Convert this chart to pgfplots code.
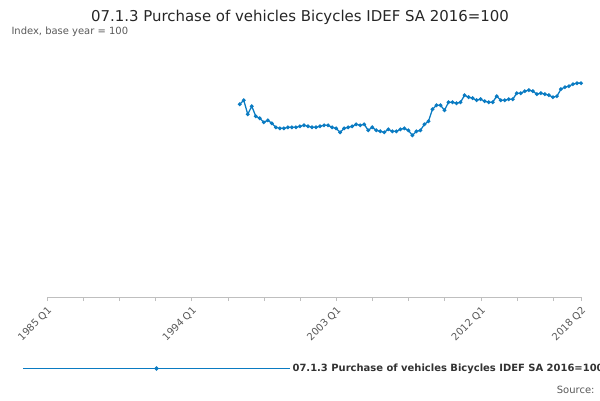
\documentclass[border=0pt]{standalone}
\usepackage{pgfplots}
\pgfplotsset{compat=1.18}
\usepackage{fontspec}
\setmainfont{DejaVu Sans}
\definecolor{ser}{HTML}{0A7BC2}
\begin{document}
\begin{tikzpicture}[x=1bp,y=1bp]
\path[use as bounding box] (0,0) rectangle (600,400);
\node[anchor=center,font=\fontsize{15}{18}\selectfont,text=black!85] at (300,383) {07.1.3 Purchase of vehicles Bicycles IDEF SA 2016=100};
\node[anchor=west,font=\fontsize{10}{12}\selectfont,text=black!65] at (8,368) {Index, base year = 100};
\node[anchor=east,font=\fontsize{10}{12}\selectfont,text=black!65] at (598,10) {Source:};
\begin{axis}[at={(47bp,103bp)},anchor=south west,scale only axis,width=534bp,height=251bp,
 xmin=0,xmax=133,ymin=0,ymax=125,
 ytick={0,25,50,75,100,125},
 xtick={0,36,72,108,133},xticklabels={1985 Q1,1994 Q1,2003 Q1,2012 Q1,2018 Q2},
 minor xtick={9,18,27,45,54,63,81,90,99,117,126},
 x tick label style={rotate=45,anchor=north east,font=\fontsize{10}{12}\selectfont,text=black!65},
 y tick label style={font=\fontsize{10}{12}\selectfont,text=black!65},
 /pgf/number format/assume math mode=true,
 ymajorgrids,grid style={black!12},
 axis line style={draw=none},
 x axis line style={draw=black!25},
 axis x line*=bottom, axis y line=none,
 ytick style={draw=none},
 xtick style={black!25},minor tick style={black!25},
 tick align=outside, major tick length=4bp, minor tick length=4bp,
 legend style={at={(0.5,-0.25)},anchor=north,draw=none,font=\bfseries\fontsize{10}{12}\selectfont,text=black!80},
 legend image code/.code={\draw[ser,line width=1.2pt] (0,0)--(0.5,0); \fill[ser] (0.25,0) circle (1.5pt);}
]
\addplot[ser,line width=1.3pt,mark=*,mark size=1.2pt] coordinates {
(48,96)(49,98)(50,91)(51,95)(52,90)(53,89)(54,87)(55,88)(56,86.5)(57,84.5)(58,84)(59,84)(60,84.5)(61,84.5)(62,84.5)(63,85)(64,85.5)(65,85)(66,84.5)(67,84.5)(68,85)(69,85.5)(70,85.5)(71,84.5)(72,84)(73,82)(74,84)(75,84.5)(76,85)(77,86)(78,85.5)(79,86)(80,83)(81,84.5)(82,83)(83,82.5)(84,82)(85,83.5)(86,82.5)(87,82.5)(88,83.5)(89,84)(90,83)(91,80.5)(92,82.5)(93,83)(94,86)(95,87.5)(96,93.5)(97,95.5)(98,95.5)(99,93)(100,97)(101,97)(102,96.5)(103,97)(104,100.5)(105,99.5)(106,99)(107,98)(108,98.5)(109,97.5)(110,97)(111,97)(112,100)(113,98)(114,98)(115,98.5)(116,98.5)(117,101.5)(118,101.5)(119,102.5)(120,103)(121,102.5)(122,101)(123,101.5)(124,101)(125,100.5)(126,99.5)(127,100)(128,103.5)(129,104.5)(130,105)(131,106)(132,106.5)(133,106.5)};
\addlegendentry{07.1.3 Purchase of vehicles Bicycles IDEF SA 2016=100}
\end{axis}
\end{tikzpicture}
\end{document}
